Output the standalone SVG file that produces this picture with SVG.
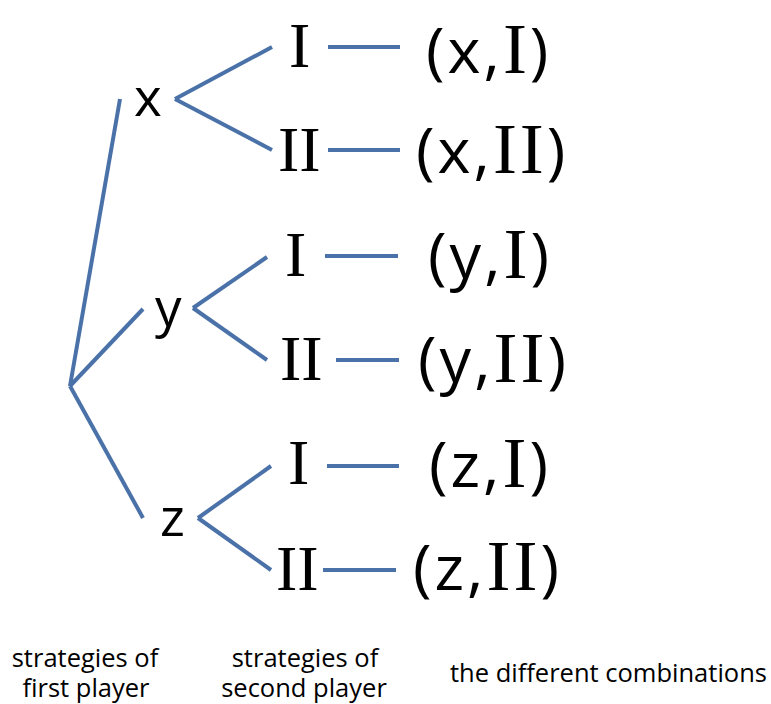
<svg xmlns="http://www.w3.org/2000/svg" width="771" height="704" viewBox="0 0 771 704">
<style>
.ln{stroke:#4a72a8;stroke-width:4;fill:none;stroke-linecap:butt}
.s{font-family:"Open Sans",Lato,"Liberation Sans",sans-serif;fill:#000}
.r{font-family:"Liberation Serif","Times New Roman",serif;fill:#000}
.big{font-size:63px;letter-spacing:3px}
.lbl{font-size:53px}
.rom{font-size:64px}
.crom{font-size:72px}
.cap{font-size:25.5px}
</style>
<rect width="771" height="704" fill="#fff"/>
<g id="connectors">
<line class="ln" x1="70" y1="386" x2="120" y2="99"/>
<line class="ln" x1="70" y1="386" x2="143" y2="309"/>
<line class="ln" x1="70" y1="386" x2="143" y2="518"/>
<line class="ln" x1="175" y1="99" x2="272" y2="47"/>
<line class="ln" x1="175" y1="99" x2="272" y2="150"/>
<line class="ln" x1="193" y1="308" x2="267" y2="257"/>
<line class="ln" x1="193" y1="308" x2="267" y2="360"/>
<line class="ln" x1="198" y1="518" x2="271" y2="466"/>
<line class="ln" x1="198" y1="518" x2="271" y2="570"/>
<line class="ln" x1="328" y1="47" x2="400" y2="47"/>
<line class="ln" x1="328" y1="150" x2="400" y2="150"/>
<line class="ln" x1="325" y1="256" x2="398" y2="256"/>
<line class="ln" x1="336" y1="360" x2="399" y2="360"/>
<line class="ln" x1="327" y1="466" x2="399" y2="466"/>
<line class="ln" x1="323" y1="570" x2="396" y2="570"/>
</g>
<g id="node-x"><text class="s lbl" x="134" y="116">x</text></g>
<g id="node-y"><text class="s lbl" x="155" y="326">y</text></g>
<g id="node-z"><text class="s lbl" x="160" y="536">z</text></g>
<g id="node-xI"><text class="r rom" x="289" y="67">I</text></g>
<g id="node-xII"><text class="r rom" x="278" y="171">II</text></g>
<g id="node-yI"><text class="r rom" x="285" y="276">I</text></g>
<g id="node-yII"><text class="r rom" x="280" y="380">II</text></g>
<g id="node-zI"><text class="r rom" x="288" y="484">I</text></g>
<g id="node-zII"><text class="r rom" x="276" y="590">II</text></g>
<g id="combo-xI"><text class="s big" x="426" y="73">(x,<tspan class="r crom">I</tspan>)</text></g>
<g id="combo-xII"><text class="s big" x="416" y="173">(x,<tspan class="r crom">II</tspan>)</text></g>
<g id="combo-yI"><text class="s big" x="428" y="278">(y,<tspan class="r crom">I</tspan>)</text></g>
<g id="combo-yII"><text class="s big" x="418" y="382">(y,<tspan class="r crom">II</tspan>)</text></g>
<g id="combo-zI"><text class="s big" x="429" y="487">(z,<tspan class="r crom">I</tspan>)</text></g>
<g id="combo-zII"><text class="s big" x="413" y="590">(z,<tspan class="r crom">II</tspan>)</text></g>
<g id="captions">
<text class="s cap" x="85" y="667" text-anchor="middle">strategies of</text>
<text class="s cap" x="86" y="697" text-anchor="middle">first player</text>
<text class="s cap" x="305" y="667" text-anchor="middle">strategies of</text>
<text class="s cap" x="304" y="697" text-anchor="middle">second player</text>
<text class="s cap" x="450" y="682">the different combinations</text>
</g>
</svg>
